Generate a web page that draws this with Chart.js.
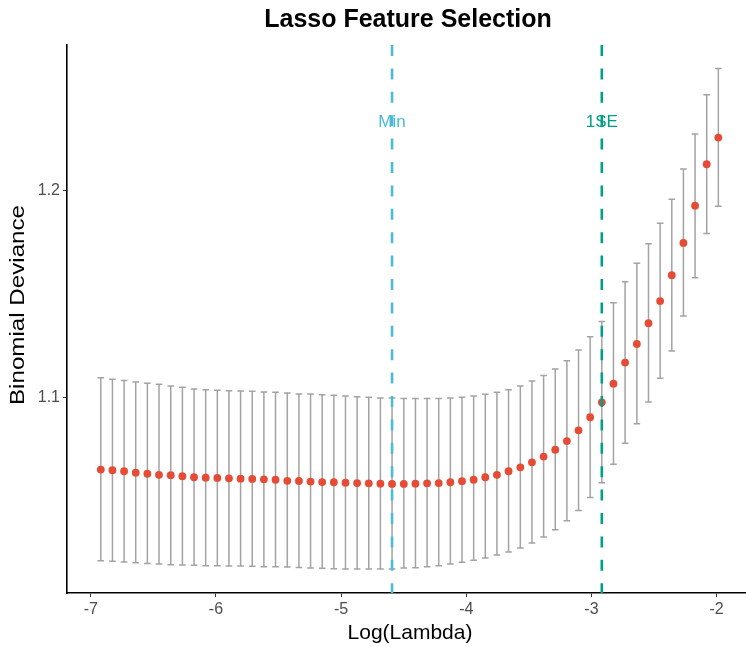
<!DOCTYPE html>
<html>
<head>
<meta charset="utf-8">
<script src="https://cdn.jsdelivr.net/npm/chart.js@4.4.1/dist/chart.umd.min.js"></script>
<style>
  html, body { margin: 0; padding: 0; background: #ffffff; }
  #wrap { width: 746px; height: 647px; position: relative; }
</style>
</head>
<body>
<div id="wrap"><canvas id="c" width="746" height="647"></canvas></div>
<script>
const logLambda = [-6.920, -6.827, -6.734, -6.641, -6.548, -6.455, -6.361, -6.268, -6.175, -6.082,
  -5.989, -5.896, -5.803, -5.710, -5.617, -5.524, -5.430, -5.337, -5.244, -5.151,
  -5.058, -4.965, -4.872, -4.779, -4.686, -4.593, -4.499, -4.406, -4.313, -4.220,
  -4.127, -4.034, -3.941, -3.848, -3.755, -3.662, -3.568, -3.475, -3.382, -3.289,
  -3.196, -3.103, -3.010, -2.917, -2.824, -2.731, -2.637, -2.544, -2.451, -2.358,
  -2.265, -2.172, -2.079, -1.986];
const deviance = [1.0654, 1.0651, 1.0646, 1.0639, 1.0634, 1.0629, 1.0627, 1.0622, 1.0617, 1.0615,
  1.0614, 1.0612, 1.0610, 1.0609, 1.0607, 1.0605, 1.0600, 1.0599, 1.0596, 1.0594,
  1.0593, 1.0591, 1.0589, 1.0588, 1.0586, 1.0585, 1.0585, 1.0586, 1.0588, 1.0589,
  1.0593, 1.0598, 1.0605, 1.0617, 1.0629, 1.0646, 1.0665, 1.0689, 1.0717, 1.0750,
  1.0792, 1.0844, 1.0907, 1.0979, 1.1069, 1.1171, 1.1261, 1.1361, 1.1468, 1.1593,
  1.1749, 1.1929, 1.2129, 1.2258];
const upper = [1.1098, 1.1090, 1.1084, 1.1077, 1.1071, 1.1066, 1.1058, 1.1052, 1.1043, 1.1040,
  1.1037, 1.1035, 1.1034, 1.1032, 1.1029, 1.1028, 1.1024, 1.1019, 1.1019, 1.1016,
  1.1013, 1.1010, 1.1006, 1.1003, 1.1000, 1.1000, 1.0997, 1.0997, 1.0997, 1.0997,
  1.1000, 1.1003, 1.1010, 1.1018, 1.1028, 1.1040, 1.1058, 1.1082, 1.1108, 1.1140,
  1.1180, 1.1232, 1.1296, 1.1370, 1.1460, 1.1562, 1.1651, 1.1745, 1.1844, 1.1960,
  1.2106, 1.2275, 1.2465, 1.2591];
const lower = [1.0214, 1.0211, 1.0208, 1.0204, 1.0201, 1.0198, 1.0195, 1.0193, 1.0192, 1.0190,
  1.0190, 1.0188, 1.0188, 1.0187, 1.0185, 1.0185, 1.0184, 1.0181, 1.0179, 1.0177,
  1.0175, 1.0174, 1.0174, 1.0174, 1.0174, 1.0174, 1.0179, 1.0180, 1.0185, 1.0190,
  1.0198, 1.0206, 1.0216, 1.0227, 1.0242, 1.0256, 1.0275, 1.0300, 1.0329, 1.0364,
  1.0407, 1.0457, 1.0519, 1.0591, 1.0680, 1.0781, 1.0876, 1.0981, 1.1095, 1.1227,
  1.1396, 1.1581, 1.1794, 1.1926];
const xTicks = [-7, -6, -5, -4, -3, -2];
const yTicks = [1.1, 1.2];
const refLines = [
  { value: -4.593, label: 'Min', color: '#4DBBD5' },
  { value: -2.917, label: '1SE', color: '#00A087' }
];

const FONT = "'Liberation Sans', Arial, Helvetica, sans-serif";

const errorBars = {
  id: 'errorBars',
  beforeDatasetsDraw(chart) {
    const { ctx, scales: { x, y } } = chart;
    ctx.save();
    ctx.strokeStyle = '#A3A3A3';
    ctx.lineWidth = 1.5;
    for (let i = 0; i < logLambda.length; i++) {
      const px = x.getPixelForValue(logLambda[i]);
      const pt = y.getPixelForValue(upper[i]);
      const pb = y.getPixelForValue(lower[i]);
      ctx.beginPath();
      ctx.moveTo(px, pt); ctx.lineTo(px, pb);
      ctx.moveTo(px - 3.3, pt); ctx.lineTo(px + 3.3, pt);
      ctx.moveTo(px - 3.3, pb); ctx.lineTo(px + 3.3, pb);
      ctx.stroke();
    }
    ctx.restore();
  }
};

const overlay = {
  id: 'overlay',
  afterDatasetsDraw(chart) {
    const { ctx, chartArea: a, scales: { x } } = chart;
    ctx.save();
    ctx.font = '17px ' + FONT;
    ctx.textAlign = 'center';
    ctx.textBaseline = 'middle';
    refLines.forEach(r => {
      ctx.fillStyle = r.color;
      ctx.fillText(r.label, x.getPixelForValue(r.value), 122);
    });
    ctx.lineWidth = 2.6;
    ctx.setLineDash([11, 12.4]);
    refLines.forEach(r => {
      const px = x.getPixelForValue(r.value);
      ctx.strokeStyle = r.color;
      ctx.beginPath();
      ctx.moveTo(px, a.top);
      ctx.lineTo(px, a.bottom);
      ctx.stroke();
    });
    ctx.setLineDash([]);
    ctx.restore();
  },
  afterDraw(chart) {
    const { ctx } = chart;
    ctx.save();
    ctx.fillStyle = '#000000';
    ctx.textAlign = 'center';
    ctx.textBaseline = 'middle';
    ctx.font = 'bold 25px ' + FONT;
    ctx.fillText('Lasso Feature Selection', 408, 20);
    ctx.font = '21px ' + FONT;
    ctx.fillText('Log(Lambda)', 410, 633);
    ctx.translate(18, 305);
    ctx.rotate(-Math.PI / 2);
    ctx.scale(1.15, 1);
    ctx.fillText('Binomial Deviance', 0, 0);
    ctx.restore();
  }
};

new Chart(document.getElementById('c'), {
  type: 'scatter',
  data: {
    datasets: [{
      data: logLambda.map((v, i) => ({ x: v, y: deviance[i] })),
      pointRadius: 3.9,
      pointHoverRadius: 3.9,
      backgroundColor: '#E64B35',
      borderWidth: 0
    }]
  },
  options: {
    responsive: false,
    animation: false,
    events: [],
    layout: { autoPadding: false, padding: { top: 45, left: 0, right: 0, bottom: 0 } },
    plugins: { legend: { display: false }, tooltip: { enabled: false }, title: { display: false } },
    scales: {
      x: {
        type: 'linear',
        min: -7.19,
        max: -1.765,
        afterBuildTicks: s => { s.ticks = xTicks.map(v => ({ value: v })); },
        afterFit: s => { s.height = 54; },
        grid: { drawOnChartArea: false, drawTicks: true, tickLength: 4, color: '#333333', lineWidth: 1 },
        border: { display: true, color: '#000000', width: 1.6 },
        ticks: { color: '#4D4D4D', font: { family: FONT, size: 16 }, padding: 3, maxRotation: 0,
          callback: v => String(v) }
      },
      y: {
        type: 'linear',
        min: 1.0058,
        max: 1.2705,
        afterBuildTicks: s => { s.ticks = yTicks.map(v => ({ value: v })); },
        afterFit: s => { s.width = 67; },
        grid: { drawOnChartArea: false, drawTicks: true, tickLength: 4, color: '#333333', lineWidth: 1 },
        border: { display: true, color: '#000000', width: 1.6 },
        ticks: { color: '#4D4D4D', font: { family: FONT, size: 16 }, padding: 3,
          callback: v => Number(v).toFixed(1) }
      }
    }
  },
  plugins: [errorBars, overlay]
});
</script>
</body>
</html>
